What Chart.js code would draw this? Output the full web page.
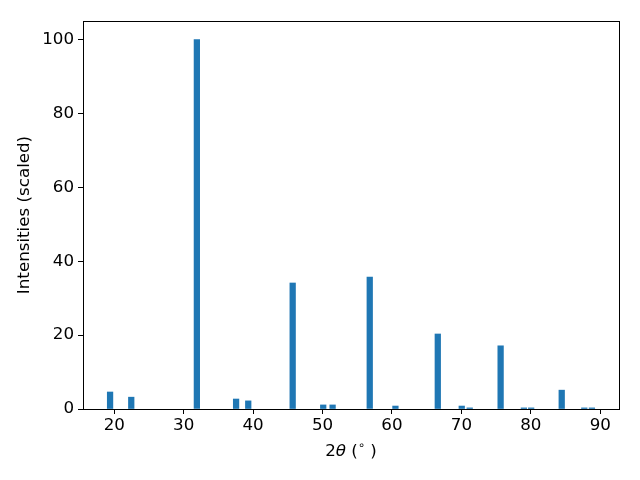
<!DOCTYPE html>
<html>
<head>
<meta charset="utf-8">
<script src="https://cdn.jsdelivr.net/npm/chart.js@4"></script>
<style>
  body { margin: 0; background: #fff; }
</style>
</head>
<body>
<canvas id="chXrd" width="640" height="480"></canvas>
<script>
// peak positions (2theta, degrees) and scaled intensities
var twoTheta = [19.4, 22.45, 31.9, 37.55, 39.3, 45.7, 50.1, 51.45, 56.8, 60.5, 66.6, 70.05, 71.2, 75.65, 79.0, 80.05, 84.45, 87.7, 88.8];
var intensities = [4.6, 3.2, 100, 2.7, 2.2, 34.1, 1.1, 1.1, 35.7, 0.8, 20.3, 0.8, 0.3, 17.1, 0.3, 0.3, 5.1, 0.3, 0.3];
var xTicks = [20, 30, 40, 50, 60, 70, 80, 90];
var yTicks = [0, 20, 40, 60, 80, 100];

var font = {family: 'DejaVu Sans', size: 16.7};

var points = twoTheta.map(function (t, i) { return {x: t, y: intensities[i]}; });

// box around the plot area + x label with italic theta
var framePlugin = {
  id: 'frame',
  afterDraw: function (chart) {
    var ctx = chart.ctx, a = chart.chartArea;
    ctx.save();
    ctx.strokeStyle = '#000';
    ctx.lineWidth = 1;
    ctx.strokeRect(a.left + 0.5, a.top + 0.5, a.right - a.left, a.bottom - a.top);

    var parts = [
      {t: '2', f: '16.7px "DejaVu Sans"', dy: 0},
      {t: 'θ', f: 'italic 16.7px "DejaVu Sans"', dy: 0},
      {t: ' (', f: '16.7px "DejaVu Sans"', dy: 0},
      {t: '∘', f: '11.5px "DejaVu Sans"', dy: -6},
      {t: ' )', f: '16.7px "DejaVu Sans"', dy: 0}
    ];
    var total = 0;
    parts.forEach(function (p) { ctx.font = p.f; p.w = ctx.measureText(p.t).width; total += p.w; });
    var x = (a.left + a.right) / 2 - total / 2;
    ctx.fillStyle = '#000';
    ctx.textBaseline = 'middle';
    parts.forEach(function (p) { ctx.font = p.f; ctx.fillText(p.t, x, 452 + p.dy); x += p.w; });
    ctx.restore();
  }
};

new Chart(document.getElementById('chXrd'), {
  type: 'bar',
  data: {
    datasets: [{
      data: points,
      backgroundColor: '#1f77b4',
      borderWidth: 0,
      barThickness: 5.6
    }]
  },
  options: {
    responsive: false,
    animation: false,
    layout: {padding: {top: 21, right: 21, left: 0, bottom: 0}},
    plugins: {legend: {display: false}, tooltip: {enabled: false}},
    scales: {
      x: {
        type: 'linear',
        offset: false,
        min: 15.5,
        max: 92.7,
        afterFit: function (s) { s.height = 71; },
        afterBuildTicks: function (s) { s.ticks = xTicks.map(function (v) { return {value: v}; }); },
        grid: {drawOnChartArea: false, offset: false, tickLength: 5, color: '#000'},
        border: {color: '#000', width: 1},
        ticks: {font: font, color: '#000', padding: 2, maxRotation: 0, includeBounds: false}
      },
      y: {
        min: 0,
        max: 105,
        afterFit: function (s) { s.width = 83; },
        afterBuildTicks: function (s) { s.ticks = yTicks.map(function (v) { return {value: v}; }); },
        grid: {drawOnChartArea: false, tickLength: 5, color: '#000'},
        border: {color: '#000', width: 1},
        ticks: {font: font, color: '#000', padding: 4, includeBounds: false},
        title: {display: true, text: 'Intensities (scaled)', font: font, color: '#000', padding: {top: 15, bottom: 0}}
      }
    }
  },
  plugins: [framePlugin]
});
</script>
</body>
</html>
